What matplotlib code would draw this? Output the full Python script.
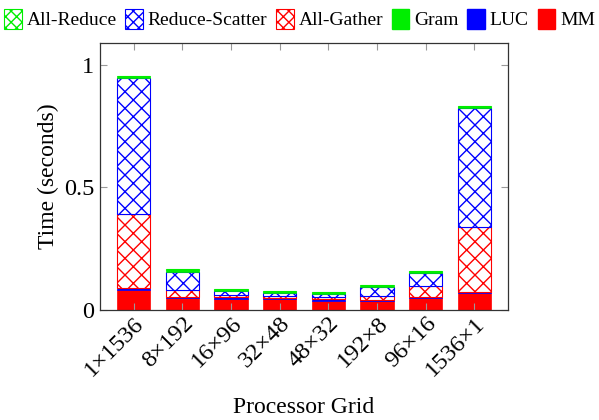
import numpy as np
import matplotlib
matplotlib.use("Agg")
import matplotlib.pyplot as plt
from matplotlib.patches import Patch

plt.rcParams["font.family"] = ["Liberation Serif", "DejaVu Serif"]
plt.rcParams["hatch.linewidth"] = 1.0

grids = ["1\u00d71536", "8\u00d7192", "16\u00d796", "32\u00d748",
         "48\u00d732", "192\u00d78", "96\u00d716", "1536\u00d71"]

# stacked from bottom to top
mm = [0.083, 0.048, 0.044, 0.044, 0.038, 0.035, 0.048, 0.068]
luc = [0.006, 0.006, 0.009, 0.006, 0.006, 0.005, 0.004, 0.004]
all_gather = [0.303, 0.028, 0.008, 0.008, 0.009, 0.018, 0.046, 0.268]
reduce_scatter = [0.556, 0.074, 0.017, 0.011, 0.012, 0.037, 0.052, 0.486]
gram = [0.005, 0.006, 0.005, 0.004, 0.005, 0.005, 0.006, 0.004]
all_reduce = [0.003, 0.005, 0.003, 0.003, 0.003, 0.003, 0.004, 0.003]

series = [
    ("MM", mm, "#ff0000", False),
    ("LUC", luc, "#0000ff", False),
    ("All-Gather", all_gather, "#ff0000", True),
    ("Reduce-Scatter", reduce_scatter, "#0000ff", True),
    ("Gram", gram, "#00ee00", False),
    ("All-Reduce", all_reduce, "#00ee00", True),
]
legend_order = ["All-Reduce", "Reduce-Scatter", "All-Gather", "Gram", "LUC", "MM"]

fig = plt.figure(figsize=(5.99, 4.2), dpi=100)
ax = fig.add_axes([0.167, 0.262, 0.681, 0.636])

x = np.arange(len(grids))
bottom = np.zeros(len(grids))
handles = {}
for name, vals, color, hatched in series:
    vals = np.array(vals)
    if hatched:
        ax.bar(x, vals, 0.68, bottom=bottom, facecolor="white",
               edgecolor=color, hatch="xx", linewidth=0.8)
        handles[name] = Patch(facecolor="white", edgecolor=color,
                              hatch="xxx", linewidth=0.8, label=name)
    else:
        ax.bar(x, vals, 0.68, bottom=bottom, color=color,
               edgecolor=color, linewidth=0.5)
        handles[name] = Patch(facecolor=color, edgecolor=color, label=name)
    bottom += vals

ax.set_xlim(-0.69, 7.69)
ax.set_ylim(0, 1.09)
ax.set_yticks([0, 0.5, 1])
ax.set_yticklabels(["0", "0.5", "1"])
ax.set_xticks(x)
ax.set_xticklabels(grids, rotation=45, ha="right", rotation_mode="anchor")

ax.tick_params(direction="in", top=True, right=True, length=5,
               color="#999999", labelsize=17.5, pad=4)
ax.tick_params(axis="x", pad=2)
for s in ax.spines.values():
    s.set_color("#333333")
    s.set_linewidth(0.9)

ax.set_ylabel("Time (seconds)", fontsize=17, labelpad=4)
ax.set_xlabel("Processor Grid", fontsize=17, labelpad=12)

fig.legend(handles=[handles[n] for n in legend_order], loc="center",
           bbox_to_anchor=(0.5, 0.955), ncol=6, frameon=False, fontsize=14,
           handlelength=0.9, handleheight=1.2, handletextpad=0.25,
           columnspacing=0.45, borderaxespad=0)

fig.savefig("out.png", dpi=100)
